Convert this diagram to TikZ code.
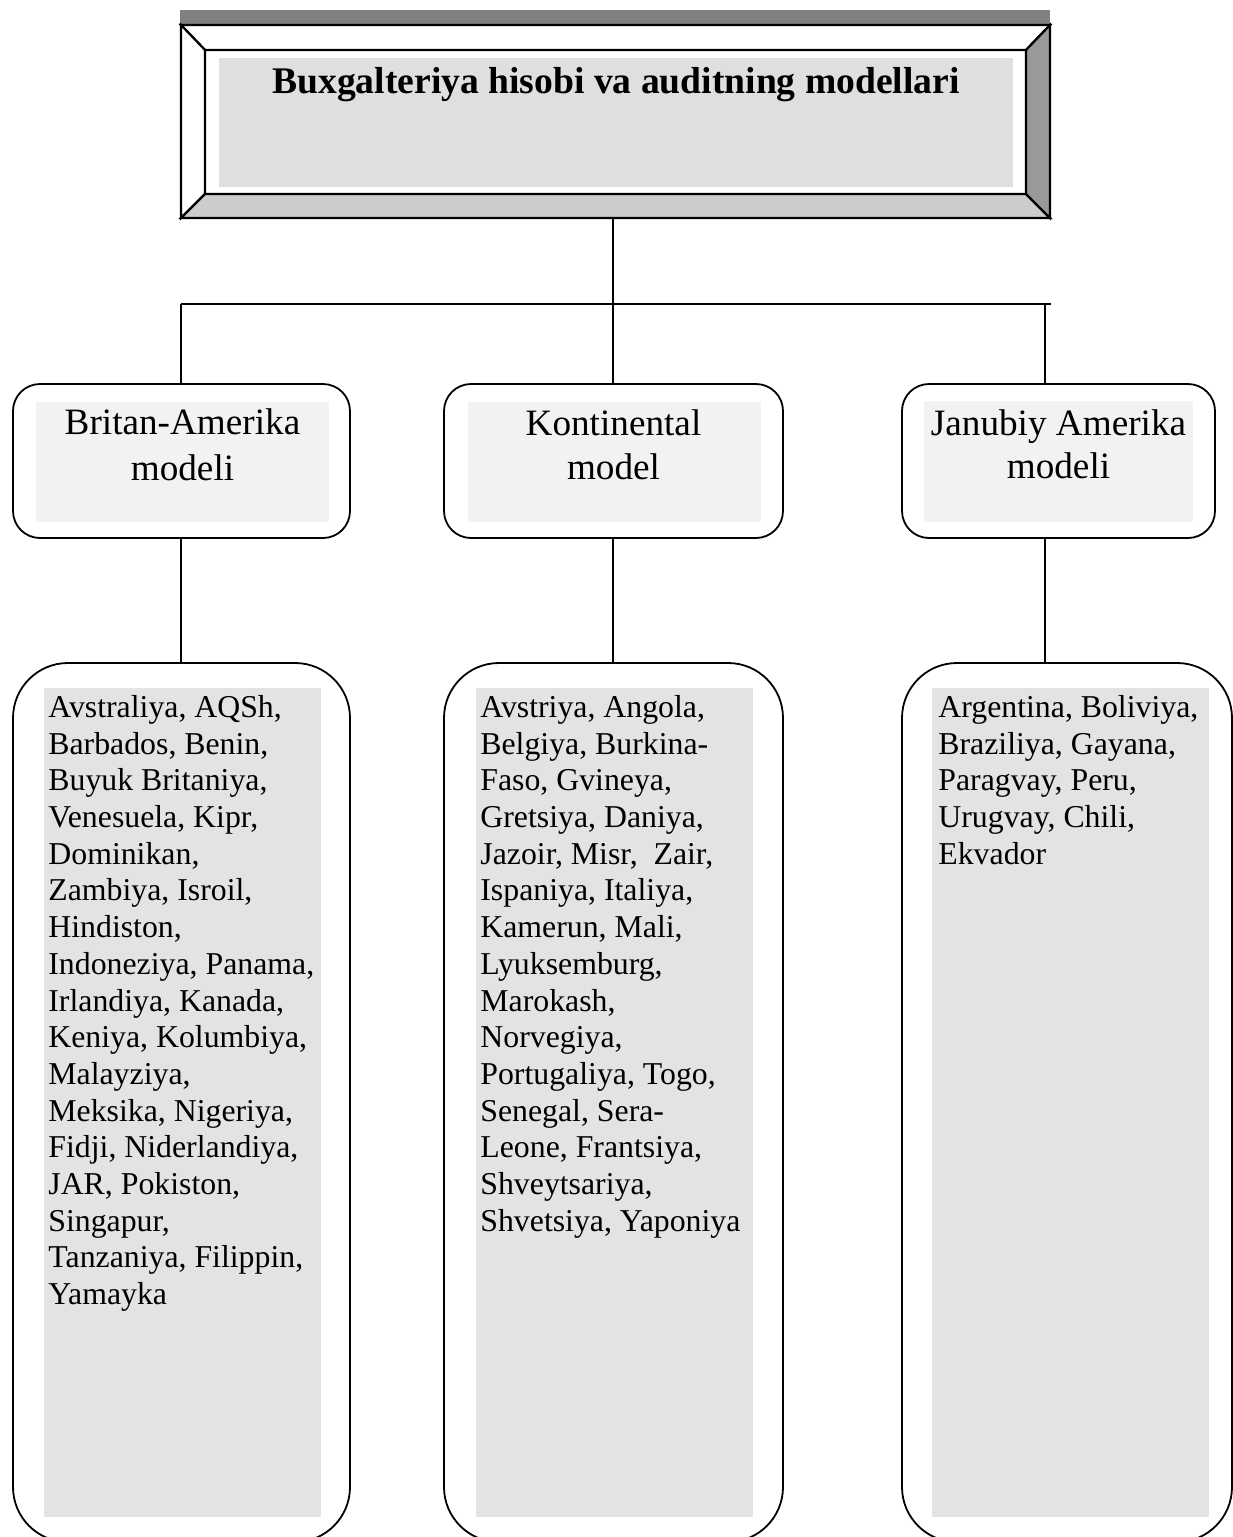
\documentclass[tikz,border=0pt]{standalone}
\usepackage{fontspec}
\setmainfont{Liberation Serif}
\definecolor{barg}{HTML}{808080}
\definecolor{bevlo}{HTML}{CCCCCC}
\definecolor{bevri}{HTML}{999999}
\definecolor{headfill}{HTML}{DFDFDF}
\definecolor{modfill}{HTML}{F2F2F2}
\definecolor{listfill}{HTML}{E3E3E3}
\begin{document}
\begin{tikzpicture}[x=0.5pt,y=-0.5pt,
  conn/.style={line width=0.9pt},
  bevel/.style={draw,line width=1.1pt,line join=miter},
  headbox/.style={draw,line width=1.1pt,minimum width=434.5pt,minimum height=96.5pt,inner sep=0pt},
  modelbox/.style={draw,line width=0.9pt,rounded corners=13.5pt,minimum height=77pt,inner sep=0pt},
  countrybox/.style={draw,line width=0.9pt,rounded corners=27.5pt,minimum height=439.5pt,inner sep=0pt},
  modeltxt/.style={anchor=base,inner sep=0pt,font=\fontsize{18.6}{23}\selectfont},
  listtxt/.style={anchor=north west,inner sep=0pt,align=left,font=\fontsize{15.9}{18.35}\selectfont},
]
\useasboundingbox (0,0) rectangle (1232,1537);

% ---- title box with bevel ----
\fill[barg] (180,10) rectangle (1050,25);
\path[bevel,fill=white] (181,25) -- (1050,25) -- (1026,50) -- (205,50) -- cycle;
\path[bevel,fill=white] (181,25) -- (205,50) -- (205,194) -- (181,218) -- cycle;
\path[bevel,fill=bevlo] (181,218) -- (205,194) -- (1026,194) -- (1050,218) -- cycle;
\path[bevel,fill=bevri] (1050,25) -- (1026,50) -- (1026,194) -- (1050,218) -- cycle;
\fill[headfill] (219,58) rectangle (1013,187);
\node[headbox] (head) at (615.5,121.5) {};
\node[anchor=base,inner sep=0pt,font=\bfseries\fontsize{18.8}{22}\selectfont] (title) at (616,93) {Buxgalteriya hisobi va auditning modellari};

% ---- model boxes ----
\fill[modfill] (36,402) rectangle (329,522);
\fill[modfill] (468,402) rectangle (761,522);
\fill[modfill] (924,401) rectangle (1193,522);
\node[modelbox,minimum width=168.5pt] (m1) at (181.5,461) {};
\node[modelbox,minimum width=169.5pt] (m2) at (613.5,461) {};
\node[modelbox,minimum width=156.5pt] (m3) at (1058.5,461) {};
\node[modeltxt] (l1a) at (182.5,434) {Britan-Amerika};
\node[modeltxt] (l1b) at (182.5,480) {modeli};
\node[modeltxt] (l2a) at (613.5,435) {Kontinental};
\node[modeltxt] (l2b) at (613.5,479) {model};
\node[modeltxt] (l3a) at (1058.5,435) {Janubiy Amerika};
\node[modeltxt] (l3b) at (1058.5,478) {modeli};

% ---- country boxes ----
\fill[listfill] (44,688) rectangle (321,1517);
\fill[listfill] (476,688) rectangle (753,1517);
\fill[listfill] (932,688) rectangle (1209,1517);
\node[countrybox,minimum width=168.5pt] (c1) at (181.5,1102.5) {};
\node[countrybox,minimum width=169.5pt] (c2) at (613.5,1102.5) {};
\node[countrybox,minimum width=165pt] (c3) at (1067,1102.5) {};

\node[listtxt] (t1) at (48,691.3) {\strut Avstraliya, AQSh,\\Barbados, Benin,\\Buyuk Britaniya,\\Venesuela, Kipr,\\Dominikan,\\Zambiya, Isroil,\\Hindiston,\\Indoneziya, Panama,\\Irlandiya, Kanada,\\Keniya, Kolumbiya,\\Malayziya,\\Meksika, Nigeriya,\\Fidji, Niderlandiya,\\JAR, Pokiston,\\Singapur,\\Tanzaniya, Filippin,\\Yamayka};
\node[listtxt] (t2) at (480,691.3) {\strut Avstriya, Angola,\\Belgiya, Burkina-\\Faso, Gvineya,\\Gretsiya, Daniya,\\Jazoir, Misr,\ \ Zair,\\Ispaniya, Italiya,\\Kamerun, Mali,\\Lyuksemburg,\\Marokash,\\Norvegiya,\\Portugaliya, Togo,\\Senegal, Sera-\\Leone, Frantsiya,\\Shveytsariya,\\Shvetsiya, Yaponiya};
\node[listtxt] (t3) at (938,691.3) {\strut Argentina, Boliviya,\\Braziliya, Gayana,\\Paragvay, Peru,\\Urugvay, Chili,\\Ekvador};

% ---- connectors ----
\coordinate (jm) at (613,304);
\coordinate (jl) at (181,304);
\coordinate (jend) at (1051,304);
\coordinate (j3) at (1045,304);
\draw[conn] (head.south -| jm) -- (jm);
\draw[conn] (jl) -- (jend);
\draw[conn] (jl) -- (m1.north -| jl);
\draw[conn] (jm) -- (m2.north -| jm);
\draw[conn] (j3) -- (m3.north -| j3);
\draw[conn] (m1.south -| jl) -- (c1.north -| jl);
\draw[conn] (m2.south -| jm) -- (c2.north -| jm);
\draw[conn] (m3.south -| j3) -- (c3.north -| j3);
\end{tikzpicture}
\end{document}
